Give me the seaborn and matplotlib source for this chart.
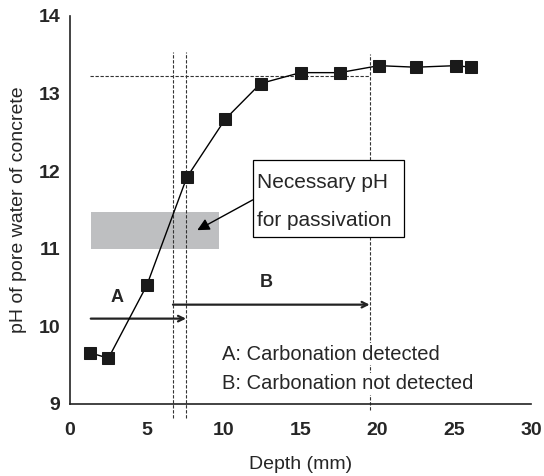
import matplotlib
matplotlib.use("Agg")
import matplotlib.pyplot as plt
import seaborn as sns
import pandas as pd
from matplotlib.patches import Rectangle

# --- DATA ---
depth_mm = [1.3, 2.5, 5.0, 7.6, 10.1, 12.4, 15.0, 17.55, 20.1, 22.5, 25.1, 26.1]
ph_value = [9.66, 9.59, 10.53, 11.92, 12.67, 13.13, 13.27, 13.27, 13.36, 13.34, 13.36, 13.34]

x_ticks = [0, 5, 10, 15, 20, 25, 30]
y_ticks = [9, 10, 11, 12, 13, 14]

passivation_band = (11.0, 11.47)   # necessary pH range (shaded)
band_depth = (1.35, 9.7)
ph_plateau = 13.23
front_a = 7.55      # carbonation front A
front_b_start = 6.7
front_b = 19.5      # carbonation front B

sns.set_style("white")
plt.rcParams["font.family"] = ["Liberation Sans", "DejaVu Sans"]

df = pd.DataFrame({"Depth (mm)": depth_mm, "pH": ph_value})

fig = plt.figure(figsize=(5.44, 4.76), dpi=100)
ax = fig.add_axes([0.1287, 0.1513, 0.8474, 0.8151])

dash = (0, (3, 1.5))
lc = "#333333"

# shaded band
ax.add_patch(Rectangle((band_depth[0], passivation_band[0]), band_depth[1] - band_depth[0],
                       passivation_band[1] - passivation_band[0],
                       facecolor="#bebfc1", edgecolor="none", zorder=1))

# dashed guide lines
ax.plot([1.3, front_b], [ph_plateau, ph_plateau], color=lc, lw=0.8, ls=dash, zorder=2)
ax.plot([front_b_start, front_b_start], [8.82, 13.53], color=lc, lw=0.8, ls=dash, clip_on=False, zorder=2)
ax.plot([front_a, front_a], [8.82, 13.53], color=lc, lw=0.8, ls=dash, clip_on=False, zorder=2)
ax.plot([front_b, front_b], [8.92, 13.51], color=lc, lw=0.8, ls=dash, clip_on=False, zorder=2)

# measured data
sns.lineplot(data=df, x="Depth (mm)", y="pH", ax=ax, color="black", lw=1.0,
             marker="s", markersize=8.5, markerfacecolor="#1a1a1a",
             markeredgecolor="#1a1a1a", zorder=4)

# arrows for A and B
ax.annotate("", xy=(front_a, 10.10), xytext=(1.35, 10.10),
            arrowprops=dict(arrowstyle="->", color="#222222", lw=1.6,
                            shrinkA=0, shrinkB=0), zorder=3)
ax.annotate("", xy=(front_b, 10.28), xytext=(front_b_start, 10.28),
            arrowprops=dict(arrowstyle="->", color="#222222", lw=1.6,
                            shrinkA=0, shrinkB=0), zorder=3)
ax.text(3.05, 10.37, "A", fontsize=13, fontweight="bold", ha="center", va="center")
ax.text(12.8, 10.56, "B", fontsize=13, fontweight="bold", ha="center", va="center")

# note box with arrow to the band
ax.add_patch(Rectangle((11.89, 11.152), 21.73 - 11.89, 12.144 - 11.152,
                       facecolor="white", edgecolor="black", lw=0.9, zorder=5))
ax.text(12.17, 11.85, "Necessary pH", fontsize=15, ha="left", va="center", zorder=6)
ax.text(12.17, 11.36, "for passivation", fontsize=15, ha="left", va="center", zorder=6)
ax.annotate("", xy=(8.28, 11.24), xytext=(11.89, 11.63),
            arrowprops=dict(arrowstyle="-|>", color="black", lw=1.0,
                            mutation_scale=18, shrinkA=0, shrinkB=0), zorder=5)

ax.text(9.9, 9.64, "A: Carbonation detected", fontsize=14.5, ha="left", va="center",
        bbox=dict(facecolor="white", edgecolor="none", pad=1), zorder=5)
ax.text(9.9, 9.26, "B: Carbonation not detected", fontsize=14.5, ha="left", va="center",
        bbox=dict(facecolor="white", edgecolor="none", pad=1), zorder=5)

ax.set_xlim(0, 30)
ax.set_ylim(9, 14)
ax.set_xticks(x_ticks)
ax.set_yticks(y_ticks)
ax.set_xticklabels([str(t) for t in x_ticks], fontsize=14, fontweight="bold")
ax.set_yticklabels([str(t) for t in y_ticks], fontsize=14, fontweight="bold")
ax.tick_params(direction="in", length=6, width=1, color="#222222")
ax.tick_params(axis="x", pad=13)
ax.tick_params(axis="y", pad=7)
ax.set_xlabel("Depth (mm)", fontsize=14, labelpad=12)
ax.set_ylabel("pH of pore water of concrete", fontsize=14, labelpad=8)
sns.despine(ax=ax)
for s in ["left", "bottom"]:
    ax.spines[s].set_color("#222222")
    ax.spines[s].set_linewidth(1.2)

fig.savefig("out.png", dpi=100)
